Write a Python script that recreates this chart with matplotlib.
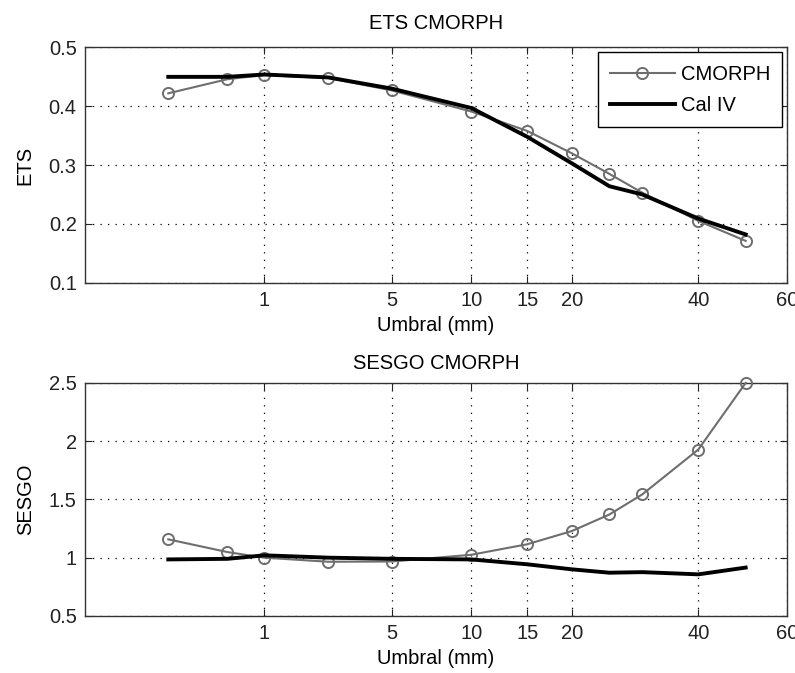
import numpy as np
import matplotlib
matplotlib.use("Agg")
import matplotlib.pyplot as plt

plt.rcParams['font.family'] = ['Liberation Sans', 'DejaVu Sans']

umbral = [0.1, 0.5, 1, 2.5, 5, 10, 15, 20, 25, 30, 40, 50]

ets_cmorph = [0.422, 0.446, 0.453, 0.448, 0.427, 0.391, 0.358, 0.320, 0.285, 0.253, 0.205, 0.171]
ets_cal = [0.450, 0.450, 0.454, 0.449, 0.430, 0.397, 0.348, 0.303, 0.264, 0.250, 0.209, 0.182]

sesgo_cmorph = [1.157, 1.048, 1.0, 0.965, 0.967, 1.025, 1.115, 1.228, 1.37, 1.542, 1.927, 2.498]
sesgo_cal = [0.985, 0.99, 1.02, 1.0, 0.99, 0.985, 0.943, 0.90, 0.871, 0.876, 0.857, 0.915]

xticks = [1, 5, 10, 15, 20, 40, 60]
ets_ticks = [0.1, 0.2, 0.3, 0.4, 0.5]
sesgo_ticks = [0.5, 1, 1.5, 2, 2.5]
sesgo_labels = ['0.5', '1', '1.5', '2', '2.5']

gray = '#6e6e6e'
fs = 14.5

fig = plt.figure(figsize=(7.95, 6.73), dpi=100)
ax1 = fig.add_axes([0.107, 0.580, 0.883, 0.3495])
ax2 = fig.add_axes([0.107, 0.0847, 0.883, 0.3467])


def style(ax):
    # cube-root x axis, MATLAB-like box and dotted grid
    ax.set_xscale('function', functions=(np.cbrt, lambda v: np.power(v, 3)))
    ax.set_xlim(0, 60)
    ax.set_xticks(xticks)
    ax.set_xticklabels([str(t) for t in xticks])
    ax.minorticks_off()
    ax.grid(True, color='black', linestyle=(0, (1, 5)), linewidth=0.9)
    ax.tick_params(direction='in', length=5, top=True, right=True,
                   labelsize=fs, colors='#222222', pad=6)
    for s in ax.spines.values():
        s.set_color('#333333')
        s.set_linewidth(1.0)
    ax.set_xlabel('Umbral (mm)', fontsize=fs, labelpad=4)


ax1.plot(umbral, ets_cmorph, '-o', color=gray, lw=1.5, ms=8,
         markerfacecolor='none', markeredgewidth=1.4, label='CMORPH', zorder=3)
ax1.plot(umbral, ets_cal, '-', color='black', lw=2.8, label='Cal IV', zorder=4)
style(ax1)
ax1.set_ylim(0.1, 0.5)
ax1.set_yticks(ets_ticks)
ax1.set_yticklabels([f'{t:.1f}' for t in ets_ticks])
ax1.set_ylabel('ETS', fontsize=fs, labelpad=10)
ax1.set_title('ETS CMORPH', fontsize=fs, pad=13)
leg = ax1.legend(loc='upper right', fontsize=fs, fancybox=False, framealpha=1,
                 edgecolor='black', handlelength=3.2, borderaxespad=0.25,
                 handletextpad=0.3, borderpad=0.6, labelspacing=0.6)
leg.get_frame().set_linewidth(1.0)

ax2.plot(umbral, sesgo_cmorph, '-o', color=gray, lw=1.5, ms=8,
         markerfacecolor='none', markeredgewidth=1.4, zorder=3, clip_on=False)
ax2.plot(umbral, sesgo_cal, '-', color='black', lw=2.8, zorder=4)
style(ax2)
ax2.set_ylim(0.5, 2.5)
ax2.set_yticks(sesgo_ticks)
ax2.set_yticklabels(sesgo_labels)
ax2.set_ylabel('SESGO', fontsize=fs, labelpad=10)
ax2.set_title('SESGO CMORPH', fontsize=fs, pad=10)

fig.savefig('out.png', dpi=100, facecolor='white')
